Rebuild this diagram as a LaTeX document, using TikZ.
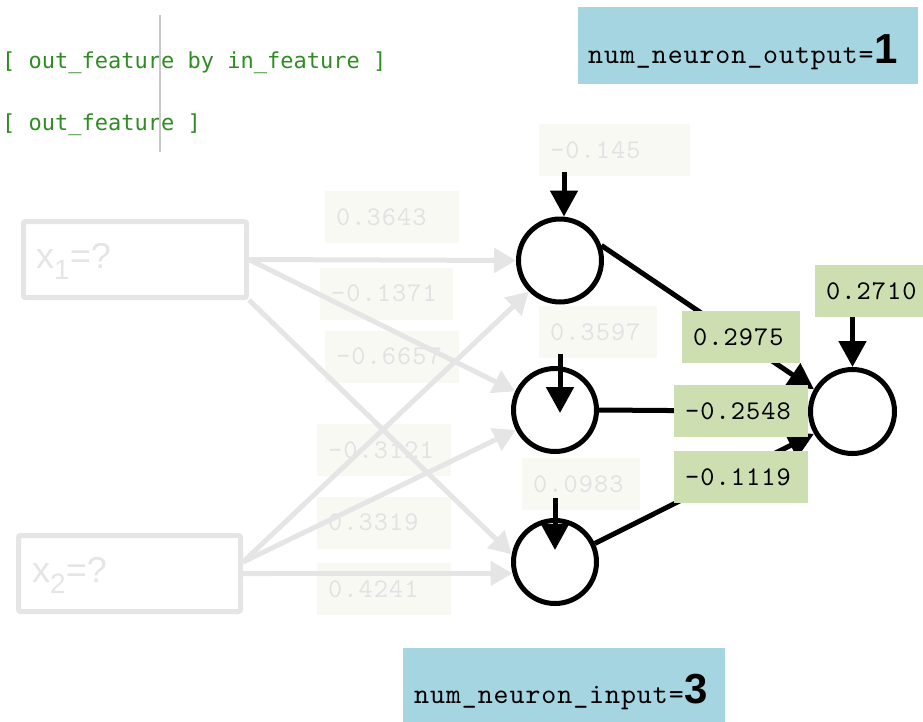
\documentclass[tikz,border=0pt]{standalone}
\usepackage{fontspec}
\setmainfont{Liberation Sans}
\newfontfamily\dmono{DejaVu Sans Mono}
\newfontfamily\lmtt[Extension=.otf]{lmmono10-regular}
\usetikzlibrary{arrows.meta,calc}
\definecolor{codegreen}{RGB}{47,140,35}
\definecolor{gline}{RGB}{229,229,229}
\definecolor{fadefill}{RGB}{249,249,244}
\definecolor{fadetext}{RGB}{226,226,226}
\definecolor{labgreen}{RGB}{205,222,176}
\definecolor{boxblue}{RGB}{166,213,226}
\definecolor{cursorgray}{RGB}{200,200,200}
\newdimen\trkamount
\def\trkloop#1{\ifx#1\relax\else#1\kern\trkamount\expandafter\trkloop\fi}
\newcommand\trk[2]{\trkamount=#1pt\relax\trkloop#2\relax}
\newcommand\labtxt[2]{\makebox[#1pt][l]{\trk{1.1}{#2}}}
\newcommand\labfont{\lmtt\fontsize{27}{30}\selectfont}
\newcommand\bluefont{\lmtt\fontsize{28.5}{32}\selectfont}
\begin{document}
\begin{tikzpicture}[x=1pt,y=-1pt,
  fadebox/.style={fill=fadefill,text=fadetext,inner xsep=11pt,inner ysep=0pt,minimum height=52pt,font=\labfont},
  glab/.style={fill=labgreen,text=black,inner xsep=11pt,inner ysep=0pt,minimum height=52pt,font=\labfont},
  inbox/.style={draw=gline,line width=5pt,rounded corners=2pt,inner sep=0pt},
  intext/.style={text=gline,anchor=base west,inner sep=0pt,font=\fontsize{36}{40}\selectfont},
  neuron/.style={circle,draw=black,line width=5pt,minimum size=83pt,inner sep=0pt},
  garrow/.style={draw=gline,line width=5pt,-{Triangle[length=22pt,width=24pt]}},
  barrow/.style={draw=black,line width=5pt,-{Triangle[length=26pt,width=27pt]}},
  bluebox/.style={fill=boxblue,inner sep=0pt},
  bluetext/.style={anchor=base west,inner sep=0pt,font=\bluefont},
  codetext/.style={anchor=base west,inner sep=0pt,text=codegreen,font=\dmono\fontsize{22}{26}\selectfont}
]
\useasboundingbox (0,0) rectangle (923,721);

% code lines and cursor
\node[codetext] (code1) at (2,68) {[ out\_feature by in\_feature ]};
\node[codetext] (code2) at (2,130) {[ out\_feature ]};
\coordinate (cur1) at (160,15);
\coordinate (cur2) at (160,152);
\draw[cursorgray,line width=1.2pt] (cur1) -- (cur2);

% blue boxes
\node[bluebox,minimum width=340pt,minimum height=77pt] (outbox) at (748,45.5) {};
\node[bluetext] (outtxt) at (588,63) {\trk{0.95}{num\_neuron\_output=}\fontspec{Liberation Sans}\bfseries\fontsize{42}{44}\selectfont 1};
\node[bluebox,minimum width=322pt,minimum height=75pt] (inbox) at (564,685.5) {};
\node[bluetext] (intxt) at (414,703) {\trk{0.95}{num\_neuron\_input=}\fontspec{Liberation Sans}\bfseries\fontsize{42}{44}\selectfont 3};

% faded weight labels
\node[fadebox] (w11) at (392,217) {\labtxt{112}{0.3643}};
\node[fadebox] (w12) at (386.5,293.5) {\labtxt{111}{-0.1371}};
\node[fadebox] (w13) at (392,356.5) {\labtxt{112}{-0.6657}};
\node[fadebox] (w21) at (384,450) {\labtxt{112}{-0.3121}};
\node[fadebox] (w22) at (384,522.5) {\labtxt{112}{0.3319}};
\node[fadebox] (w23) at (384,589) {\labtxt{112}{0.4241}};
% faded bias labels
\node[fadebox] (b1) at (614.5,150) {\labtxt{129}{-0.145}};
\node[fadebox] (b2) at (598,332) {\labtxt{96}{0.3597}};
\node[fadebox] (b3) at (581,484) {\labtxt{96}{0.0983}};

% input boxes
\node[inbox,minimum width=223pt,minimum height=76pt] (x1) at (135,259.5) {};
\node[intext] (x1t) at (36,268) {x\raisebox{-11pt}{\fontsize{28}{28}\selectfont 1}=?};
\node[inbox,minimum width=222pt,minimum height=76pt] (x2) at (129.5,573.5) {};
\node[intext] (x2t) at (32,582) {x\raisebox{-11pt}{\fontsize{28}{28}\selectfont 2}=?};

% neurons
\node[neuron] (H1) at (560,260.5) {};
\node[neuron] (H2) at (555,410) {};
\node[neuron] (H3) at (555,562) {};
\node[neuron,minimum size=84pt] (O) at (852.5,411.5) {};

% gray input arrows
\coordinate (x2s) at (243,562);
\draw[garrow] (x1.east) -- (H1.west);
\draw[garrow] (x1.east) -- (H2.155);
\draw[garrow] (x1.south east) -- (H3.170);
\draw[garrow] (x2s) -- (H1.225);
\draw[garrow] (x2s) -- (H2.207);
\draw[garrow] (x2.east) -- (H3.195);

% black weight lines to output
\draw[barrow] (H1.20) -- (O.150);
\draw[barrow] (H2.east) -- (O.west);
\draw[barrow] (H3.25) -- (O.210);

% bias arrows
\draw[barrow] ($(H1.north |- b1.south)+(4,-4)$) -- ($(H1.north)+(4,0)$);
\draw[barrow] ($(H2.center |- b2.south)+(5,-4)$) -- ($(H2.center)+(5,3)$);
\draw[barrow] ($(H3.center |- b3.south)+(0,-12)$) -- ($(H3.center)+(0,-12)$);

% green labels
\node[glab] (bo) at (874,291) {\labtxt{96}{0.2710}};
\draw[barrow] (O.north |- bo.south) -- (O.north);
\node[glab] (v1) at (741,337) {\labtxt{96}{0.2975}};
\node[glab] (v2) at (741,411) {\labtxt{112}{-0.2548}};
\node[glab] (v3) at (741,477) {\labtxt{112}{-0.1119}};
\end{tikzpicture}
\end{document}
